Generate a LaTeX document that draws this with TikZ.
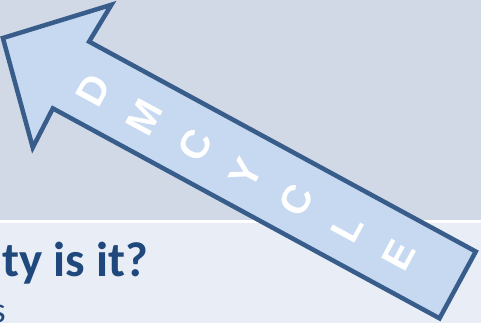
\documentclass[tikz,border=0pt]{standalone}
\usepackage{fontspec}
\setmainfont{Carlito}
\newfontfamily\arrowfont{Liberation Sans}
\definecolor{SlideTop}  {HTML}{D1D9E7}
\definecolor{SlideLow}  {HTML}{E9EDF5}
\definecolor{ArrowFill} {HTML}{C6D9F1}
\definecolor{ArrowEdge} {HTML}{385D8A}
\definecolor{TitleBlue} {HTML}{1F497D}
\usetikzlibrary{positioning}

\begin{document}
\begin{tikzpicture}[x=1pt,y=-1pt,
    letter/.style={text=white,inner sep=0pt,rotate=61.5,
                   font=\arrowfont\bfseries\fontsize{40}{40}\selectfont}]
  \useasboundingbox (0,0) rectangle (481,323);
  \clip (0,0) rectangle (481,323);
  %% Slide background, upper and lower band
  \fill[SlideTop](0,0) rectangle (481,220);
  \fill[white](0,220) rectangle (481,222.5);
  \fill[SlideLow](0,222.5) rectangle (481,323);
  %% Title line, cut off at the left edge
  \node[anchor=base west,inner sep=0pt,text=TitleBlue,
        font=\bfseries\fontsize{49}{49}\selectfont] (title) at (2,276){ty is it?};
  \node[anchor=base east,inner sep=0pt,text=TitleBlue,
        font=\fontsize{36}{36}\selectfont] (sub) at (6,322){s};
  %% Block arrow, pointing up-left
  \begin{scope}[shift={(71,75)},rotate=-28.5]
    \draw[ArrowEdge,fill=ArrowFill,line width=4.5pt,miter limit=10]
      (-77.5,0) -- (2,-81) -- (0,-38) -- (440,-38)
      -- (440,38) -- (0,38) -- (1,82) -- cycle;
    %% Stacked letters along the shaft
    \foreach \ch [count=\i from 0] in {D,M,C,Y,C,L,E}
      \node[letter] (l\i) at (27+57.8*\i,2.5){\ch};
  \end{scope}
\end{tikzpicture}
\end{document}
